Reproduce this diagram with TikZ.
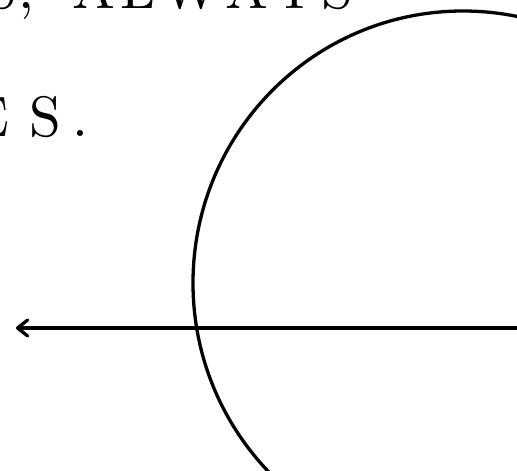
\documentclass[tikz,border=0pt]{standalone}
\usepackage{fontspec}
\newfontfamily\capsfont{lmroman10-regular.otf}
\usetikzlibrary{arrows.meta,shapes.geometric}
\newcommand{\lsp}{\kern5.4pt}
\begin{document}
\begin{tikzpicture}[x=1pt,y=1pt,
  txt/.style={anchor=base west, inner sep=0pt, outer sep=0pt,
    font=\capsfont\fontsize{57}{57}\selectfont},
  ring/.style={draw, ellipse, line width=3.3pt, inner sep=0pt},
  pointer/.style={line width=3.3pt, -{Straight Barb[length=10pt,width=16pt,round]}}]
\useasboundingbox (0,0) rectangle (517,-471);
\clip (0,0) rectangle (517,-471);
\node[txt] (wordA) at (-15,-9) {S\kern2pt,};
\node[txt] (wordB) at (72,-9) {A\lsp L\lsp W\lsp A\lsp Y\lsp S};
\node[txt] (wordC) at (-30,-136) {E\kern21pt S\kern11pt.};
\node[ring, minimum width=540pt, minimum height=544pt] (circ) at (463,-283) {};
\coordinate (tail) at (540,-328);
\coordinate (tip) at (16,-328);
\draw[pointer] (tail) -- (tip);
\end{tikzpicture}
\end{document}
